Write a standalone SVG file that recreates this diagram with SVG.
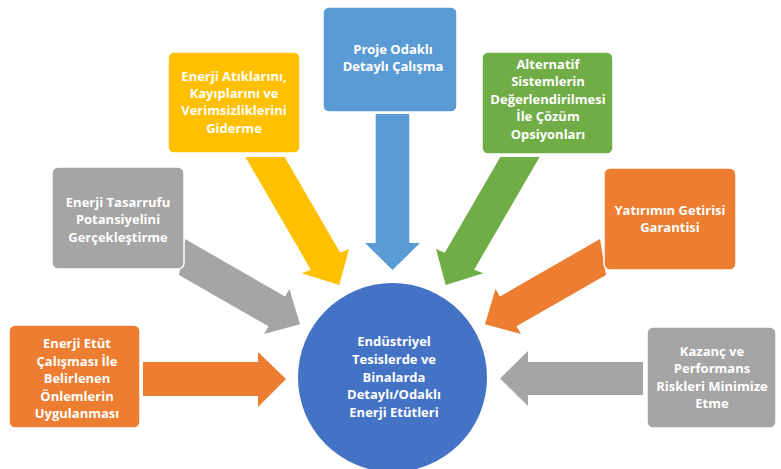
<svg xmlns="http://www.w3.org/2000/svg" width="781" height="469" viewBox="0 0 781 469">
<style>
  .box { stroke: #ffffff; stroke-width: 1.5; }
  .t { font-family: "Open Sans", "Noto Sans", "DejaVu Sans", sans-serif; font-weight: bold; font-size: 13px; fill: #ffffff; text-anchor: middle; }
  .orange { fill: #ED7D31; }
  .gray { fill: #A5A5A5; }
  .yellow { fill: #FFC000; }
  .blue { fill: #5B9BD5; }
  .green { fill: #70AD47; }
  .center { fill: #4472C4; }
</style>
<rect width="781" height="469" fill="#ffffff"/>
<g id="connectors">
  <polygon class="orange" points="143,362 258,362 258,352 286,379 258,407 258,396 143,396"/>
  <polygon class="gray" points="185,239 285.1,296.5 289.5,289 300,324.3 264,334 268.5,326.3 179,275"/>
  <polygon class="yellow" points="245.4,157 284.7,157 340.2,252.7 349,249 339.3,285 301.7,273.3 310.8,269.7"/>
  <polygon class="blue" points="375.7,114 409.3,114 409.3,243 420,243 392.5,270 365,243 375.7,243"/>
  <polygon class="green" points="539.6,157 500.3,157 444.8,252.7 436,249 445.7,285 483.3,273.3 474.2,269.7"/>
  <polygon class="orange" points="600,239 499.9,296.5 495.5,289 485,324.3 521,334 516.5,326.3 606,275"/>
  <polygon class="gray" points="643,362 528,362 528,351 500,378.5 528,406 528,395 643,395"/>
</g>
<g id="node-center">
  <circle class="center" cx="392.5" cy="377.5" r="94.5"/>
  <text class="t" x="394" y="346.3">Endüstriyel</text>
  <text class="t" x="394" y="364">Tesislerde ve</text>
  <text class="t" x="394" y="381.5">Binalarda</text>
  <text class="t" x="394" y="399">Detaylı/Odaklı</text>
  <text class="t" x="394" y="416.5">Enerji Etütleri</text>
</g>
<g id="node-etut">
  <rect class="box orange" x="9" y="325" width="131" height="103" rx="6"/>
  <text class="t" x="77" y="348">Enerji Etüt</text>
  <text class="t" x="77" y="365.5">Çalışması İle</text>
  <text class="t" x="77" y="383">Belirlenen</text>
  <text class="t" x="77" y="400.5">Önlemlerin</text>
  <text class="t" x="77" y="418">Uygulanması</text>
</g>
<g id="node-tasarruf">
  <rect class="box gray" x="52" y="167" width="132" height="102" rx="6"/>
  <text class="t" x="118" y="206.5">Enerji Tasarrufu</text>
  <text class="t" x="118" y="224">Potansiyelini</text>
  <text class="t" x="118" y="241.5">Gerçekleştirme</text>
</g>
<g id="node-atik">
  <rect class="box yellow" x="168" y="52" width="132" height="101" rx="6"/>
  <text class="t" x="234" y="80.8">Enerji Atıklarını,</text>
  <text class="t" x="234" y="98.1">Kayıplarını ve</text>
  <text class="t" x="234" y="115.4">Verimsizliklerini</text>
  <text class="t" x="234" y="132.7">Giderme</text>
</g>
<g id="node-proje">
  <rect class="box blue" x="323" y="7" width="134" height="105" rx="6"/>
  <text class="t" x="393" y="53.7">Proje Odaklı</text>
  <text class="t" x="393" y="71">Detaylı Çalışma</text>
</g>
<g id="node-alternatif">
  <rect class="box green" x="482" y="52" width="131" height="102" rx="6"/>
  <text class="t" x="548" y="68.7">Alternatif</text>
  <text class="t" x="548" y="86">Sistemlerin</text>
  <text class="t" x="548" y="103.5">Değerlendirilmesi</text>
  <text class="t" x="548" y="121">İle Çözüm</text>
  <text class="t" x="548" y="138.5">Opsiyonları</text>
</g>
<g id="node-yatirim">
  <rect class="box orange" x="604" y="168" width="132" height="102" rx="6"/>
  <text class="t" x="670" y="214.7">Yatırımın Getirisi</text>
  <text class="t" x="670" y="232">Garantisi</text>
</g>
<g id="node-kazanc">
  <rect class="box gray" x="647" y="327" width="129" height="101" rx="6"/>
  <text class="t" x="712" y="355.7">Kazanç ve</text>
  <text class="t" x="712" y="373">Performans</text>
  <text class="t" x="712" y="390.5">Riskleri Minimize</text>
  <text class="t" x="712" y="408">Etme</text>
</g>
</svg>
